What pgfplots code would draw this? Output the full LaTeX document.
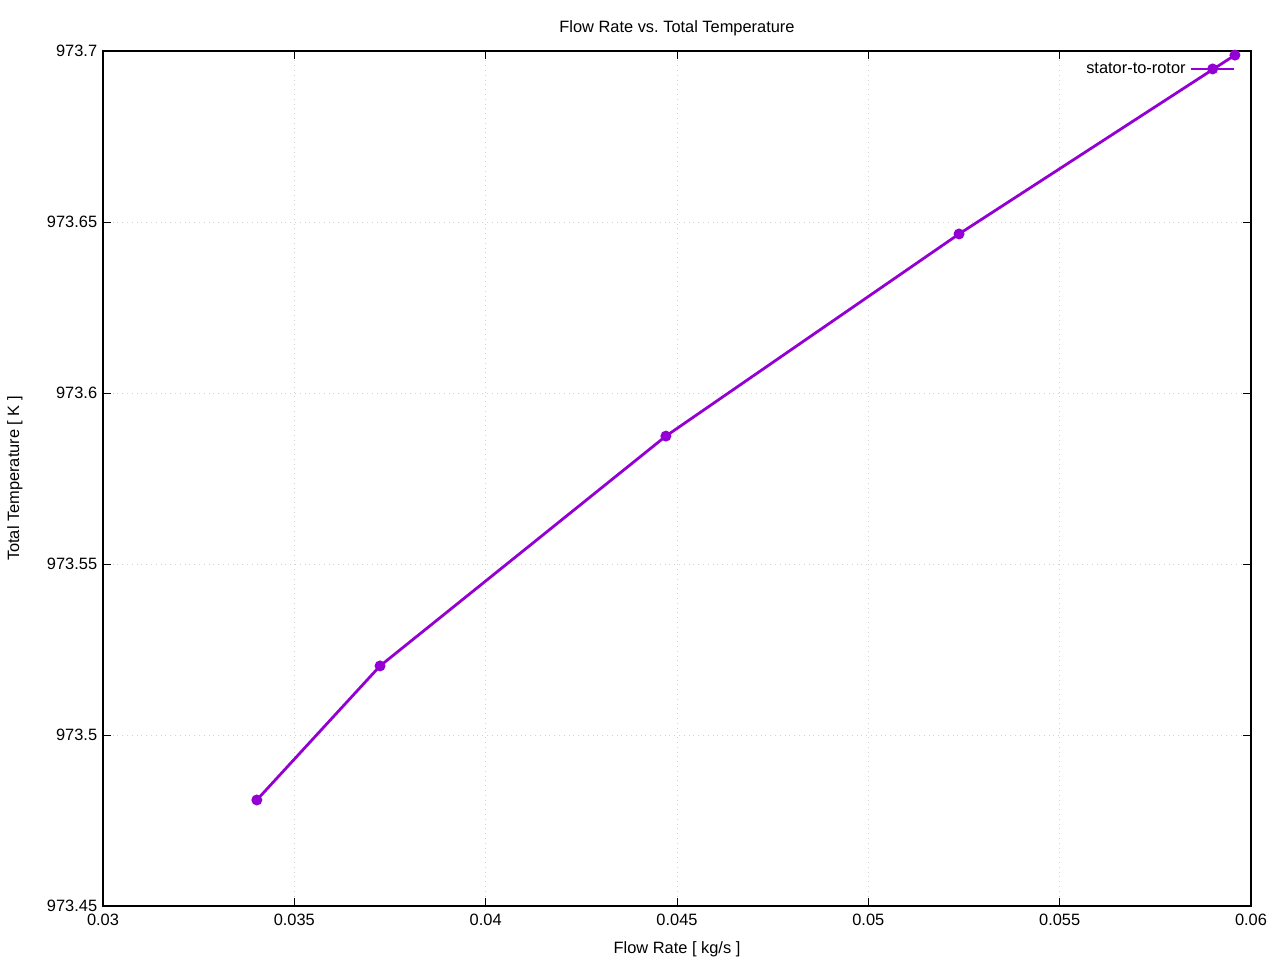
\documentclass[border=0pt]{standalone}
\usepackage{fontspec}
\setmainfont{Liberation Sans}
\usepackage{pgfplots}
\pgfplotsset{compat=1.18}
\definecolor{gpviolet}{RGB}{148,0,211}
\begin{document}
\frenchspacing
\fontsize{8.2}{10}\selectfont
\begin{tikzpicture}
\path[use as bounding box] (0,0) rectangle (640pt,480pt);
\begin{axis}[
  at={(51.5pt,27pt)}, anchor=south west,
  scale only axis, width=574pt, height=427.5pt,
  xmin=0.03, xmax=0.06, ymin=973.45, ymax=973.7,
  xtick={0.03,0.035,0.04,0.045,0.05,0.055,0.06},
  xticklabels={0.03,0.035,0.04,0.045,0.05,0.055,0.06},
  ytick={973.45,973.5,973.55,973.6,973.65,973.7},
  yticklabels={973.45,973.5,973.55,973.6,973.65,973.7},
  scaled ticks=false,
  tick align=inside, major tick length=4pt,
  tick style={black, line width=0.5pt},
  axis line style={line width=0.6pt},
  grid=major, major grid style={gray!35, dotted, line width=0.4pt},
  tick label style={font=\fontsize{8.2}{10}\selectfont},
  xticklabel style={yshift=-1pt},
  /pgf/number format/assume math mode=true,
  title={Flow Rate vs.\ Total Temperature},
  title style={at={(0.5,1)}, anchor=center, yshift=5.5pt, font=\fontsize{8.2}{10}\selectfont},
  xlabel={Flow Rate [ kg/s ]},
  ylabel={Total Temperature [ K ]},
  xlabel style={font=\fontsize{8.2}{10}\selectfont, at={(0.5,0)}, anchor=center, yshift=-21.5pt},
  ylabel style={font=\fontsize{8.2}{10}\selectfont, at={(-0.0767,0.5)}, anchor=center},
  legend plot pos=right,
  legend image code/.code={\draw[mark repeat=2,mark phase=2,#1,line width=1.4pt] plot coordinates {(0cm,0cm)(0.38cm,0cm)(0.76cm,0cm)};},
  legend style={draw=none, fill=none, at={(0.987,0.979)}, anchor=east, inner xsep=0pt, inner ysep=0pt,
    font=\fontsize{8.2}{10}\selectfont, legend cell align=right},
]
\addplot[color=gpviolet, line width=1.4pt, mark=*, mark size=2pt, mark options={solid, fill=gpviolet}]
coordinates {
(0.03402,973.4810)
(0.03724,973.5202)
(0.04471,973.5874)
(0.05237,973.6465)
(0.05958,973.6988)
};
\addlegendentry{stator-to-rotor}
\end{axis}
\end{tikzpicture}
\end{document}
